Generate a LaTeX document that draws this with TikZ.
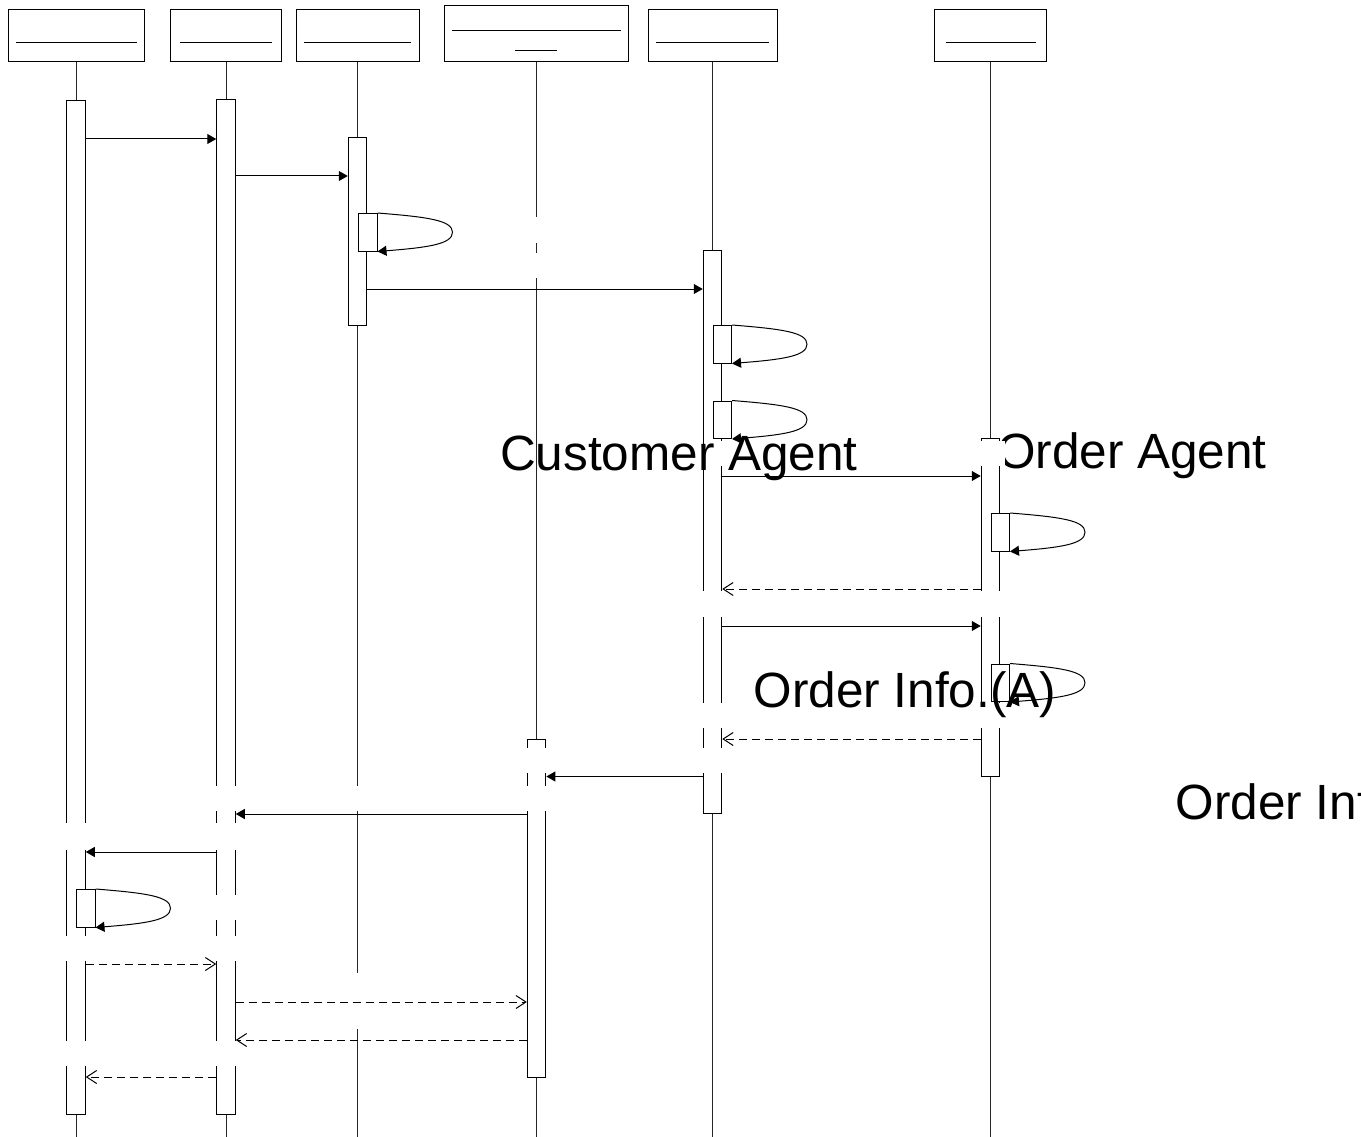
\documentclass[tikz,border=0pt]{standalone}
\usepackage{fontspec}
\setmainfont{Liberation Sans}
\usetikzlibrary{arrows.meta,calc}
\begin{document}
\begin{tikzpicture}[x=1pt,y=-1pt,line width=1pt,
  head/.style={draw=black, rectangle, inner sep=0pt, minimum height=52pt, minimum width=#1},
  lifeline/.style={draw=black!85},
  bar/.style={draw=black, fill=white, rectangle, inner sep=0pt, minimum width=18.5pt, minimum height=#1},
  selfbox/.style={draw=black, fill=white, rectangle, inner sep=0pt, minimum width=18.5pt, minimum height=37.5pt, anchor=north west},
  call/.style={draw=black, -{Triangle[length=9pt,width=10pt]}},
  reply/.style={draw=black, dash pattern=on 8pt off 5pt, -{Straight Barb[length=10pt,width=13pt]}},
  gap/.style={fill=white, draw=none},
  bigtext/.style={inner sep=0pt, anchor=base west, font=\fontsize{49.5pt}{59pt}\selectfont}
]
\useasboundingbox (0,0) rectangle (1361,1137);
% headers
\node[head=136pt] (h1) at (76,36) {};
\node[head=111.5pt] (h2) at (226,36) {};
\node[head=123pt] (h3) at (357.5,36) {};
\node[head=184pt, minimum height=56pt] (h4) at (536.6,34) {};
\node[head=129pt] (h5) at (712.5,36) {};
\node[head=112pt] (h6) at (990.5,36) {};
\draw (16,43) -- (137,43);
\draw (180,43) -- (271.5,43);
\draw (304,43) -- (411,43);
\draw (452,31) -- (621,31);
\draw (515,51) -- (557,51);
\draw (656,43) -- (769,43);
\draw (946,43) -- (1036,43);
% lifelines
\coordinate (bot) at (0,1137);
\foreach \h in {h1,h2,h3,h4,h5,h6}{\draw[lifeline] (\h.south) -- (\h.south |- bot);}
% activation bars
\node[bar=1013.5pt] (a1) at (76,607.75) {};
\node[bar=1014pt] (a2) at (226,607) {};
\node[bar=187.5pt] (a3) at (357.5,231.75) {};
\node[bar=338pt] (a4) at (536.6,908) {};
\node[bar=562.5pt] (a5) at (712.5,531.75) {};
\node[bar=338pt] (a6) at (990.5,607) {};
% self-call boxes
\node[selfbox] (s1) at (358,213) {};
\node[selfbox] (s2) at (712.5,325) {};
\node[selfbox] (s3) at (712.5,400.5) {};
\node[selfbox] (s4) at (990.5,513) {};
\node[selfbox] (s5) at (990.5,663.5) {};
\node[selfbox] (s6) at (76,889) {};
% label partly hidden
\node[bigtext] (t2) at (996.5,468.5) {Order Agent};
% white gaps
\fill[gap] (534,217) rectangle (539.5,243);
\fill[gap] (534,253) rectangle (539.5,278);
\fill[gap] (719.5,441) rectangle (1005,466);
\fill[gap] (700,591) rectangle (1003,616.5);
\fill[gap] (700,703) rectangle (1003,728);
\fill[gap] (524,748) rectangle (725,773);
\fill[gap] (214,786) rectangle (549,811);
\fill[gap] (64,823) rectangle (238,850);
\fill[gap] (214,895) rectangle (238,920);
\fill[gap] (64,936) rectangle (238,961);
\fill[gap] (355,973) rectangle (361,1029);
\fill[gap] (64,1041) rectangle (238,1066);
% self loops
\foreach \s in {s1,s2,s3,s4,s5,s6}{
  \draw[call] (\s.north east) .. controls +(50,4) and +(0,-12) .. ($(\s.east)+(75,0)$)
     .. controls +(0,12) and +(50,-4) .. (\s.south east);
}
% messages
\draw[call] (a1.east |- 0,139) -- (a2.west |- 0,139);
\draw[call] (a2.east |- 0,176) -- (a3.west |- 0,176);
\draw[call] (a3.east |- 0,289) -- (a5.west |- 0,289);
\draw[call] (a5.east |- 0,476) -- (a6.west |- 0,476);
\draw[reply] (a6.west |- 0,589) -- (a5.east |- 0,589);
\draw[call] (a5.east |- 0,626) -- (a6.west |- 0,626);
\draw[reply] (a6.west |- 0,739) -- (a5.east |- 0,739);
\draw[call] (a5.west |- 0,776.5) -- (a4.east |- 0,776.5);
\draw[call] (a4.west |- 0,814) -- (a2.east |- 0,814);
\draw[call] (a2.west |- 0,852) -- (a1.east |- 0,852);
\draw[reply] (a1.east |- 0,964) -- (a2.west |- 0,964);
\draw[reply] (a2.east |- 0,1002) -- (a4.west |- 0,1002);
\draw[reply] (a4.west |- 0,1040) -- (a2.east |- 0,1040);
\draw[reply] (a2.west |- 0,1077) -- (a1.east |- 0,1077);
% labels
\node[bigtext] (t1) at (499.5,470) {Customer Agent};
\node[bigtext] (t3) at (753,707) {Order Info.(A)};
\node[bigtext] (t4) at (1175,819) {Order Inf};
\end{tikzpicture}
\end{document}
